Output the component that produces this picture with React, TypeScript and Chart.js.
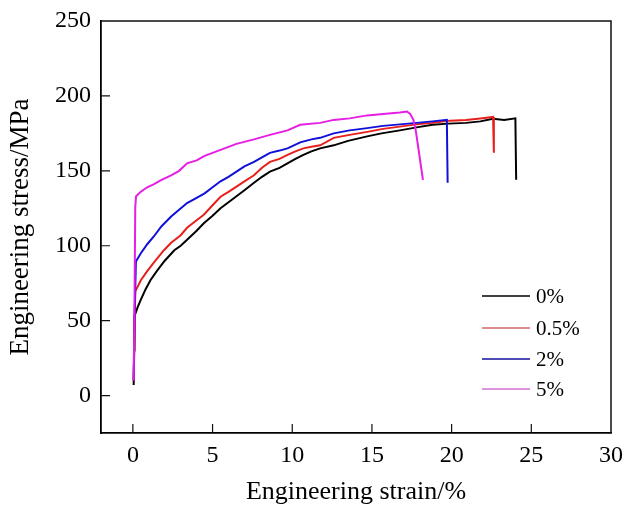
import React, { useEffect, useRef } from "react";
import { Chart, registerables } from "chart.js";

Chart.register(...registerables);

const seriesLabels = ["0%", "0.5%", "2%", "5%"];
const seriesColors = ["#000000", "#e8201c", "#1010d8", "#e61ee6"];
const legendColors = ["#000000", "#d06868", "#10109a", "#d070d0"];

const strain0 = [0.05, 0.08, 0.1, 0.3, 0.5, 0.8, 1.1, 1.5, 2.0, 2.6, 3.0, 3.4, 4.0, 4.45, 5.0, 5.5, 6.0, 6.5, 7.0, 7.6, 8.1, 8.6, 9.2, 9.7, 10.2, 10.7, 11.2, 11.75, 12.6, 13.5, 14.7, 15.6, 16.75, 17.8, 18.8, 19.8, 20.9, 21.8, 22.6, 23.3, 24.0, 24.05];
const stress0 = [7, 30, 53, 59, 64, 71, 77, 83, 90, 97, 100, 104, 110, 115, 120, 125, 129, 133, 137, 142, 146, 149.5, 152, 155, 158, 160.7, 163, 165, 167, 170, 173, 175, 177, 179, 180.7, 181.5, 182, 183, 184.7, 184, 185, 144];

const strain05 = [0.05, 0.1, 0.15, 0.5, 0.9, 1.3, 1.95, 2.4, 3.0, 3.4, 4.0, 4.45, 5.0, 5.5, 6.0, 6.5, 7.0, 7.6, 8.1, 8.6, 9.2, 9.7, 10.2, 10.7, 11.2, 11.75, 12.6, 13.6, 14.7, 15.7, 16.75, 17.8, 18.8, 19.9, 20.9, 21.8, 22.6, 22.65];
const stress05 = [10, 40, 69.5, 77, 83, 88.5, 97, 102, 107, 112, 117, 120.7, 127, 132.7, 136, 139.5, 143, 147, 152, 156, 158, 160.7, 163, 165, 166, 167, 172, 174, 176, 178, 179.5, 181, 182, 183.5, 184, 185, 186, 162];

const strain2 = [0.05, 0.1, 0.19, 0.5, 0.9, 1.3, 1.8, 2.4, 2.9, 3.4, 4.0, 4.5, 5.0, 5.5, 6.0, 6.5, 7.0, 7.6, 8.1, 8.6, 9.2, 9.7, 10.5, 11.2, 11.75, 12.6, 13.6, 14.7, 15.7, 16.75, 17.8, 18.8, 19.7, 19.75];
const stress2 = [10, 50, 89.5, 95, 101, 106, 113, 119.5, 124, 128.5, 132, 135, 139, 143, 146, 149.5, 153, 156, 159, 162, 163.5, 165, 169, 171, 172, 175, 177, 178.5, 180, 181, 182, 183, 184, 142];

const strain5 = [0.05, 0.1, 0.15, 0.2, 0.5, 0.9, 1.3, 1.8, 2.4, 2.9, 3.4, 4.0, 4.5, 5.5, 6.5, 7.6, 8.6, 9.7, 10.5, 11.75, 12.6, 13.6, 14.7, 15.7, 16.75, 17.2, 17.4, 17.6, 17.75, 17.9, 18.05, 18.2];
const stress5 = [10, 60, 126, 133, 136, 139, 141, 144, 147, 150, 155, 157, 160, 164, 168, 171, 174, 177, 180.7, 182, 184, 185, 187, 188, 189, 189.6, 188, 184, 177, 166, 155, 144];

const xTicks = [0, 5, 10, 15, 20, 25, 30];
const yTicks = [0, 50, 100, 150, 200, 250];

const FONT = "'Liberation Serif', 'Times New Roman', serif";

function pairs(xs: number[], ys: number[]) {
  return xs.map((x, i) => ({ x, y: ys[i] }));
}

const framePlugin = {
  id: "frameAndTicks",
  afterDraw(chart: any) {
    const { ctx, chartArea, scales } = chart;
    const { left, right, top, bottom } = chartArea;
    ctx.save();
    ctx.strokeStyle = "#111";
    ctx.lineWidth = 1.5;
    ctx.beginPath();
    ctx.moveTo(left, top);
    ctx.lineTo(right, top);
    ctx.lineTo(right, bottom);
    ctx.stroke();
    // inward ticks
    ctx.lineWidth = 1.2;
    ctx.beginPath();
    xTicks.forEach((v) => {
      const px = scales.x.getPixelForValue(v);
      if (px > left + 2 && px < right - 2) {
        ctx.moveTo(px, bottom);
        ctx.lineTo(px, bottom - 9);
      }
    });
    yTicks.forEach((v) => {
      const py = scales.y.getPixelForValue(v);
      if (py > top + 2 && py < bottom - 2) {
        ctx.moveTo(left, py);
        ctx.lineTo(left + 9, py);
      }
    });
    ctx.stroke();
    // legend
    const rowY = [296, 328, 359, 389];
    ctx.font = "21px " + FONT;
    ctx.textBaseline = "middle";
    ctx.textAlign = "left";
    seriesLabels.forEach((lab, i) => {
      ctx.strokeStyle = legendColors[i];
      ctx.lineWidth = 1.5;
      ctx.beginPath();
      ctx.moveTo(482, rowY[i]);
      ctx.lineTo(530, rowY[i]);
      ctx.stroke();
      ctx.fillStyle = "#000";
      ctx.fillText(lab, 536, rowY[i] + 1);
    });
    ctx.restore();
  },
};

export default function App() {
  const ref = useRef<HTMLCanvasElement | null>(null);
  useEffect(() => {
    if (!ref.current) return;
    const dataSets = [
      pairs(strain0, stress0),
      pairs(strain05, stress05),
      pairs(strain2, stress2),
      pairs(strain5, stress5),
    ];
    const chart = new Chart(ref.current, {
      type: "line",
      data: {
        datasets: dataSets.map((d, i) => ({
          label: seriesLabels[i],
          data: d,
          borderColor: seriesColors[i],
          backgroundColor: seriesColors[i],
          borderWidth: 2,
          pointRadius: 0,
          tension: 0,
          fill: false,
          order: 4 - i,
        })),
      },
      options: {
        animation: false,
        responsive: false,
        devicePixelRatio: 1,
        layout: { padding: { left: 0, right: 14, top: 21, bottom: 0 } },
        plugins: { legend: { display: false }, tooltip: { enabled: false } },
        scales: {
          x: {
            type: "linear",
            min: -2,
            max: 30,
            afterFit: (s: any) => { s.height = 75; },
            grid: { display: false },
            border: { display: true, color: "#000", width: 1.8 },
            ticks: {
              stepSize: 5,
              includeBounds: false,
              padding: 0,
              color: "#000",
              font: { family: FONT, size: 24 },
              maxRotation: 0,
            },
            title: {
              display: true,
              text: "Engineering strain/%",
              color: "#000",
              font: { family: FONT, size: 26 },
              padding: { top: 0, bottom: 0 },
            },
          },
          y: {
            type: "linear",
            min: -25,
            max: 250,
            afterFit: (s: any) => { s.width = 101; },
            grid: { display: false },
            border: { display: true, color: "#000", width: 1.8 },
            ticks: {
              stepSize: 50,
              includeBounds: false,
              padding: 2,
              color: "#000",
              font: { family: FONT, size: 24 },
            },
            title: {
              display: true,
              text: "Engineering stress/MPa",
              color: "#000",
              font: { family: FONT, size: 27 },
              padding: { top: 5, bottom: 0 },
            },
          },
        },
      },
      plugins: [framePlugin],
    } as any);
    return () => chart.destroy();
  }, []);
  return (
    <div style={{ position: "absolute", left: 0, top: 0, width: 625, height: 508, background: "#fff" }}>
      <canvas ref={ref} width={625} height={508} style={{ display: "block" }} />
    </div>
  );
}
